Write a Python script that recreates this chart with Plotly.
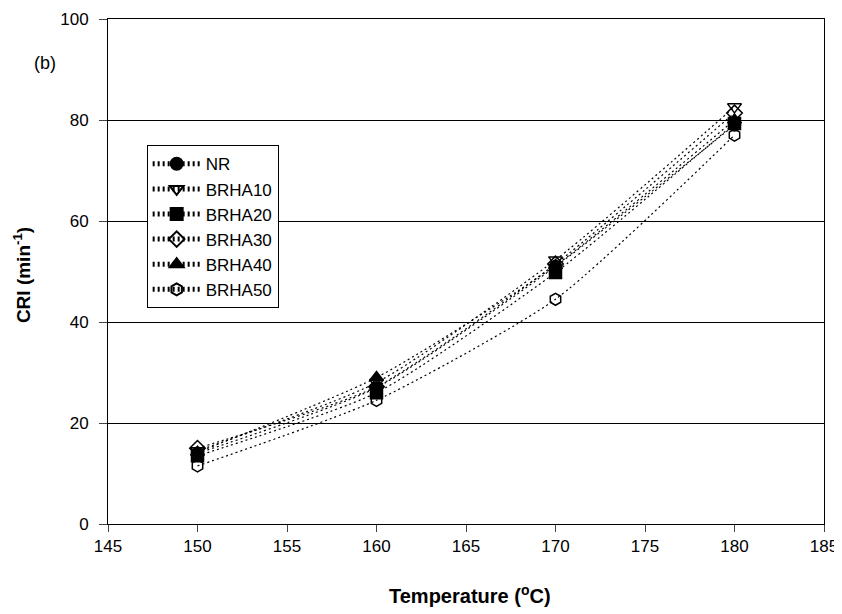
import plotly.graph_objects as go

temps = [150, 160, 170, 180]
series_names = ["NR", "BRHA10", "BRHA20", "BRHA30", "BRHA40", "BRHA50"]
nr = [14.0, 27.0, 51.0, 79.0]
brha10 = [14.5, 28.0, 52.3, 82.6]
brha20 = [13.5, 26.0, 49.8, 79.3]
brha30 = [15.0, 27.2, 51.5, 81.4]
brha40 = [14.2, 29.0, 51.2, 80.0]
brha50 = [11.5, 24.5, 44.5, 77.0]
values = [nr, brha10, brha20, brha30, brha40, brha50]
symbols = ["circle", "triangle-down-open", "square", "diamond-open", "triangle-up", "hexagon-open"]

x_ticks = [145, 150, 155, 160, 165, 170, 175, 180, 185]
y_ticks = [0, 20, 40, 60, 80, 100]

fig = go.Figure()
for name, vals, sym in zip(series_names, values, symbols):
    fig.add_trace(go.Scatter(
        x=temps, y=vals, name=name, mode="lines+markers",
        line=dict(color="black", width=1.2, dash="2px,3px", shape="spline", smoothing=0.6),
        marker=dict(symbol=sym, size=12, color="black",
                    line=dict(color="black", width=1.5)),
    ))

font = "Liberation Sans, Arial, sans-serif"
bold = "Liberation Sans Narrow, Liberation Sans, Arial, sans-serif"
fig.update_layout(
    width=834, height=606,
    margin=dict(l=100, r=18, t=11, b=90, autoexpand=False),
    paper_bgcolor="white", plot_bgcolor="white",
    font=dict(family=font, color="black", size=17),
    showlegend=True,
    legend=dict(x=0.054, y=0.75, xanchor="left", yanchor="top",
                bordercolor="black", borderwidth=1, bgcolor="white",
                font=dict(size=17), tracegroupgap=0, itemwidth=48,
                itemsizing="constant"),
    annotations=[
        dict(text="(b)", x=-0.088, y=0.913, xref="paper", yref="paper",
             xanchor="center", yanchor="middle", showarrow=False, font=dict(size=18)),
        dict(text="<b>Temperature (<sup>o</sup>C)</b>", x=0.506, y=-0.139,
             xref="paper", yref="paper", xanchor="center", yanchor="middle",
             showarrow=False, font=dict(size=20, family=bold)),
        dict(text="<b>CRI (min<sup>-1</sup>)</b>", x=-0.12, y=0.493,
             xref="paper", yref="paper", xanchor="center", yanchor="middle",
             textangle=-90, showarrow=False, font=dict(size=19, family=font)),
    ],
)
fig.update_xaxes(
    range=[145, 185], tickvals=x_ticks, ticks="outside", ticklen=7,
    showline=True, linecolor="black", linewidth=1, mirror=True,
    showgrid=False, zeroline=False, automargin=False,
)
fig.update_yaxes(
    range=[0, 100], tickvals=y_ticks, ticks="outside", ticklen=8,
    ticklabelstandoff=7,
    showline=True, linecolor="black", linewidth=1, mirror=True,
    showgrid=True, gridcolor="black", gridwidth=1, zeroline=False, automargin=False,
)
fig.write_html("out.html")
